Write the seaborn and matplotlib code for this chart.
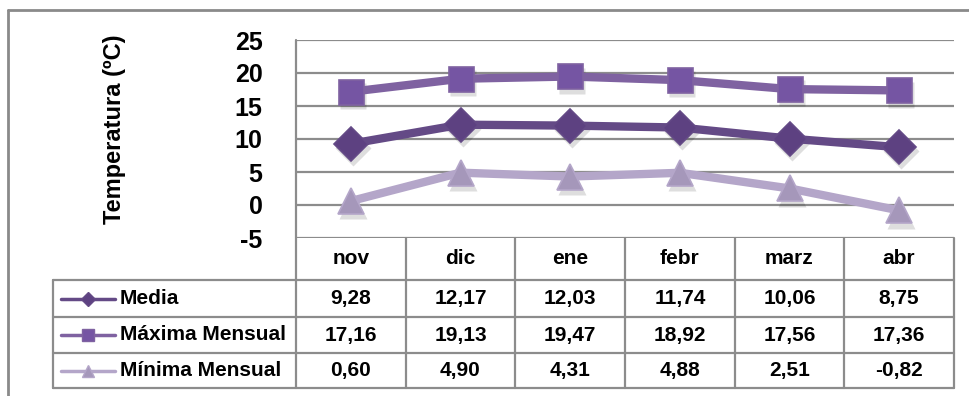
import matplotlib
matplotlib.use("Agg")
import matplotlib.pyplot as plt
import matplotlib.transforms as mtransforms
from matplotlib.lines import Line2D
import seaborn as sns
import pandas as pd

# Monthly temperatures (ºC)
meses = ["nov", "dic", "ene", "febr", "marz", "abr"]
media = [9.28, 12.17, 12.03, 11.74, 10.06, 8.75]
maxima = [17.16, 19.13, 19.47, 18.92, 17.56, 17.36]
minima = [0.60, 4.90, 4.31, 4.88, 2.51, -0.82]
series = ["Media", "Máxima Mensual", "Mínima Mensual"]
yticks = [-5, 0, 5, 10, 15, 20, 25]

valores = {"Media": media, "Máxima Mensual": maxima, "Mínima Mensual": minima}
df = pd.DataFrame(
    [(s, m, v) for s in series for m, v in zip(meses, valores[s])],
    columns=["serie", "mes", "temp"],
)

line_col = {"Media": "#644a86", "Máxima Mensual": "#7f62a1", "Mínima Mensual": "#b4a6c9"}
mark_col = {"Media": "#5d4181", "Máxima Mensual": "#7555a3", "Mínima Mensual": "#a597ba"}
mark_shape = {"Media": "D", "Máxima Mensual": "s", "Mínima Mensual": "^"}
mark_size = {"Media": 17, "Máxima Mensual": 18, "Mínima Mensual": 19}

sns.set_theme(style="white")
plt.rcParams["font.family"] = ["Liberation Sans", "DejaVu Sans"]
plt.rcParams["text.color"] = "black"

W, H = 969, 396
fig = plt.figure(figsize=(W / 100, H / 100), dpi=100)
GRID = "#8c8c8c"


def fx(px):
    return px / W


def fy(py):
    return 1 - py / H


# plot area in pixel coordinates (top-left origin)
X0, X1, Y0, Y1 = 296, 954, 40, 238
ax = fig.add_axes([fx(X0), fy(Y1), fx(X1) - fx(X0), fy(Y0) - fy(Y1)])

# soft drop shadow under the markers
shadow_tr = mtransforms.offset_copy(ax.transData, fig=fig, x=1.5, y=-3, units="points")
for s in series:
    sub = df[df["serie"] == s]
    sns.lineplot(
        data=sub, x="mes", y="temp", ax=ax, sort=False, legend=False,
        linestyle="none", marker=mark_shape[s], markersize=mark_size[s] + 1,
        markerfacecolor="#000000", markeredgecolor="none", alpha=0.13,
        transform=shadow_tr, zorder=2,
    )

for s in series:
    sub = df[df["serie"] == s]
    sns.lineplot(
        data=sub, x="mes", y="temp", ax=ax, sort=False,
        color=line_col[s], linewidth=6, legend=False,
        marker=mark_shape[s], markersize=mark_size[s],
        markerfacecolor=mark_col[s], markeredgecolor=line_col[s],
        markeredgewidth=1.2, zorder=3,
    )

ax.set_xlim(-0.5, len(meses) - 0.5)
ax.set_ylim(-5, 25)
ax.set_yticks(yticks)
ax.set_yticklabels([str(t) for t in yticks], fontsize=18, fontweight="bold", color="black")
ax.tick_params(axis="y", length=0, pad=24)
ax.tick_params(axis="x", bottom=False, labelbottom=False)
ax.set_xlabel("")
ax.set_ylabel("")
ax.grid(False)
for t in yticks:
    ax.axhline(t, color=GRID, linewidth=1.6, zorder=1)
for sp in ax.spines.values():
    sp.set_visible(False)

fig.text(fx(115), fy(129), "Temperatura (ºC)", rotation=90, ha="center", va="center",
         fontsize=17, fontweight="bold", color="black")


def hline(y, xa, xb, color=GRID, lw=1.6):
    fig.add_artist(Line2D([fx(xa), fx(xb)], [fy(y), fy(y)], color=color, linewidth=lw))


def vline(x, ya, yb, color=GRID, lw=1.6):
    fig.add_artist(Line2D([fx(x), fx(x)], [fy(ya), fy(yb)], color=color, linewidth=lw))


# outer frame
hline(10, 8, W, color="#8a8a8a", lw=2)
vline(8, 10, H, color="#8a8a8a", lw=2)

# data table under the chart
col_w = (X1 - X0) / len(meses)
rows_y = [238, 280, 317, 353, 388]
vline(X0, Y0, rows_y[-1])
for i in range(1, len(meses) + 1):
    vline(X0 + i * col_w, rows_y[0], rows_y[-1])
vline(53, rows_y[1], rows_y[-1])
for y in rows_y[1:]:
    hline(y, 53, X1)

for i, m in enumerate(meses):
    cx = X0 + (i + 0.5) * col_w
    fig.text(fx(cx), fy((rows_y[0] + rows_y[1]) / 2), m, ha="center", va="center",
             fontsize=15, fontweight="bold", color="black")

for r, s in enumerate(series):
    cy = (rows_y[r + 1] + rows_y[r + 2]) / 2
    for i, v in enumerate(valores[s]):
        cx = X0 + (i + 0.5) * col_w
        fig.text(fx(cx), fy(cy), f"{v:.2f}".replace(".", ","), ha="center", va="center",
                 fontsize=15, fontweight="bold", color="black")
    fig.add_artist(Line2D([fx(61), fx(115)], [fy(cy), fy(cy)], color=line_col[s], linewidth=2.5))
    fig.add_artist(Line2D([fx(88)], [fy(cy)], marker=mark_shape[s], markersize=8 if s != "Media" else 7.5,
                          markerfacecolor=mark_col[s], markeredgecolor=line_col[s], linestyle="none"))
    fig.text(fx(120), fy(cy), s, ha="left", va="center", fontsize=15, fontweight="bold", color="black")

fig.savefig("out.png", dpi=100, facecolor="white")
